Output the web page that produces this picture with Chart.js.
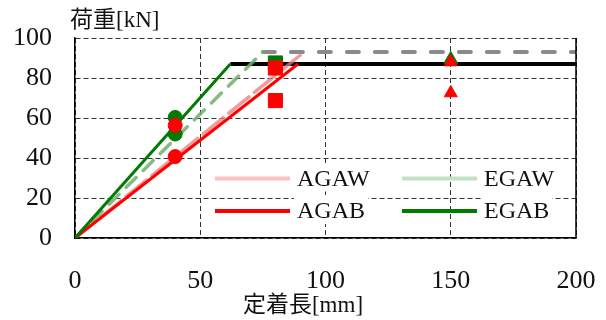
<!DOCTYPE html>
<html>
<head>
<meta charset="utf-8">
<script src="https://cdn.jsdelivr.net/npm/chart.js@4"></script>
<style>
  body { margin: 0; background: #fff; }
  #wrap { width: 606px; height: 320px; }
</style>
</head>
<body>
<div id="wrap"><canvas id="c" width="606" height="320"></canvas></div>
<script>
// axis ticks
var xTicks = [0, 50, 100, 150, 200];
var yTicks = [0, 20, 40, 60, 80, 100];

// line series: [x, y] points
var agawLine = [[0, 0], [91, 92.5]];
var egawLine = [[0, 0], [75, 93]];
var agabLine = [[0, 0], [89, 87]];
var egabLine = [[0, 0], [62, 87]];
var egawCap = [[75, 93], [200, 93]];
var egabCap = [[62, 87], [200, 87]];

// test results
var greenCircles = [[40, 60.3], [40, 52]];
var redCircles = [[40, 56.3], [40, 40.7]];
var greenSquares = [[80, 87.5]];
var redSquares = [[80, 85], [80, 68.7]];
var greenTriangles = [[150, 89.3]];
var redTriangles = [[150, 88], [150, 72.5]];

function pts(arr) {
  return arr.map(function (p) { return { x: p[0], y: p[1] }; });
}

function lineSet(label, arr, color, width, dash, legendColor) {
  return {
    label: label,
    data: pts(arr),
    showLine: true,
    borderColor: color,
    borderWidth: width,
    borderDash: dash,
    borderCapStyle: dash.length ? 'round' : 'butt',
    pointRadius: 0,
    legendColor: legendColor
  };
}

function markSet(arr, style, color, size) {
  return {
    label: '',
    data: pts(arr),
    showLine: false,
    pointStyle: style,
    pointRadius: size,
    pointBackgroundColor: color,
    pointBorderColor: color,
    pointBorderWidth: 1
  };
}

// listed bottom to top
var datasets = [
  lineSet('', egawCap, '#8a8a8a', 4, [12, 16], null),
  lineSet('', egabCap, '#000000', 4, [], null),
  lineSet('AGAW', agawLine, 'rgba(240,120,120,0.75)', 3.5, [26, 7], '#ffc0c0'),
  lineSet('EGAW', egawLine, 'rgba(110,175,110,0.85)', 3.5, [14, 10], '#c2e0c2'),
  lineSet('AGAB', agabLine, '#ff0000', 3, [], '#ff0000'),
  lineSet('EGAB', egabLine, '#007a00', 3, [], '#007a00'),
  markSet(greenCircles, 'circle', '#007a00', 7),
  markSet(redCircles, 'circle', '#ff0000', 7),
  markSet(greenSquares, 'rect', '#007a00', 10),
  markSet(redSquares, 'rect', '#ff0000', 10),
  markSet(greenTriangles, 'triangle', '#007a00', 8),
  markSet(redTriangles, 'triangle', '#ff0000', 7.5)
];
datasets.forEach(function (d, i) { d.order = datasets.length - i; });

// frame, axis titles and the 2x2 legend inside the plot
var extras = {
  id: 'extras',
  afterDraw: function (chart) {
    var ctx = chart.ctx;
    var a = chart.chartArea;
    ctx.save();
    ctx.strokeStyle = '#000';
    ctx.lineWidth = 1.5;
    ctx.beginPath();
    ctx.moveTo(a.right, a.top);
    ctx.lineTo(a.right, a.bottom);
    ctx.stroke();

    ctx.fillStyle = '#111';
    ctx.font = '23px "Liberation Serif", "Noto Sans CJK JP", serif';
    ctx.textBaseline = 'middle';
    ctx.textAlign = 'left';
    ctx.fillText('荷重[kN]', 70, 21);
    ctx.textAlign = 'center';
    ctx.fillText('定着長[mm]', 303, 306);

    var items = chart.data.datasets.filter(function (d) { return d.legendColor; });
    ctx.font = '24px "Liberation Serif", serif';
    ctx.textAlign = 'left';
    items.forEach(function (d, i) {
      var col = i % 2, row = Math.floor(i / 2);
      var x = 215 + col * 187;
      var y = 178.5 + row * 32.5;
      var tw = ctx.measureText(d.label).width;
      ctx.fillStyle = '#fff';
      ctx.fillRect(x + 79, y - 13, tw + 6, 26);
      ctx.strokeStyle = d.legendColor;
      ctx.lineWidth = 4;
      ctx.beginPath();
      ctx.moveTo(x, y);
      ctx.lineTo(x + 75, y);
      ctx.stroke();
      ctx.fillStyle = '#111';
      ctx.fillText(d.label, x + 82, y + 1);
    });
    ctx.restore();
  }
};

new Chart(document.getElementById('c'), {
  type: 'scatter',
  data: { datasets: datasets },
  options: {
    responsive: false,
    animation: false,
    layout: { padding: { top: 38, right: 30, left: 0, bottom: 0 } },
    plugins: { legend: { display: false }, tooltip: { enabled: false } },
    scales: {
      x: {
        type: 'linear',
        min: 0,
        max: 200,
        afterBuildTicks: function (s) { s.ticks = xTicks.map(function (v) { return { value: v }; }); },
        afterFit: function (s) { s.height = 82; s.paddingLeft = 0; s.paddingRight = 0; },
        ticks: { color: '#111', padding: 28, maxRotation: 0, font: { family: '"Liberation Serif", serif', size: 26 } },
        grid: { color: '#333', lineWidth: 1, drawTicks: false },
        border: { color: '#000', width: 1.5, dash: [5, 3] }
      },
      y: {
        type: 'linear',
        min: 0,
        max: 100,
        afterBuildTicks: function (s) { s.ticks = yTicks.map(function (v) { return { value: v }; }); },
        afterFit: function (s) { s.width = 75; s.paddingTop = 0; s.paddingBottom = 0; },
        ticks: { color: '#111', padding: 23, font: { family: '"Liberation Serif", serif', size: 26 } },
        grid: { color: '#333', lineWidth: 1, drawTicks: false },
        border: { color: '#000', width: 1.5, dash: [5, 3] }
      }
    }
  },
  plugins: [extras]
});
</script>
</body>
</html>
